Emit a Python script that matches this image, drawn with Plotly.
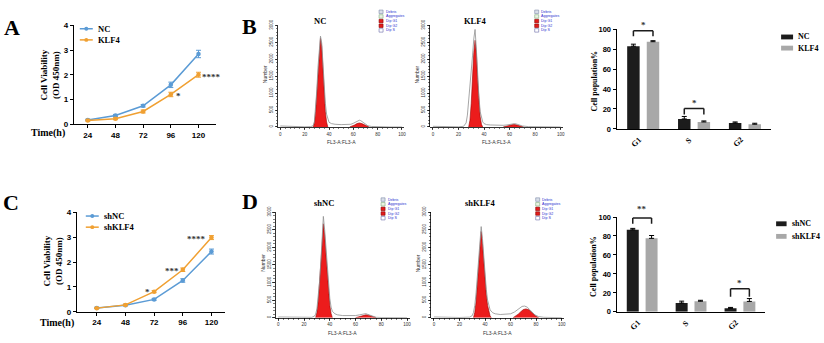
import plotly.graph_objects as go

W, H = 824, 343

# ---------------- data ----------------
hours = [24, 48, 72, 96, 120]
nc_od = [0.17, 0.35, 0.74, 1.59, 2.84]
nc_od_err = [0.03, 0.04, 0.05, 0.11, 0.15]
klf4_od = [0.15, 0.22, 0.51, 1.20, 2.00]
klf4_od_err = [0.03, 0.04, 0.06, 0.09, 0.10]
shnc_od = [0.16, 0.27, 0.50, 1.26, 2.42]
shnc_od_err = [0.03, 0.03, 0.04, 0.07, 0.10]
shklf4_od = [0.15, 0.28, 0.81, 1.69, 2.98]
shklf4_od_err = [0.02, 0.03, 0.04, 0.07, 0.08]

phases = ["G1", "S", "G2"]
nc_pct = [83, 10, 6]
nc_pct_err = [2, 2.5, 1]
klf4_pct = [87.5, 7, 4.7]
klf4_pct_err = [1, 1, 1]
shnc_pct = [86.5, 9.3, 3.7]
shnc_pct_err = [1.5, 2, 1]
shklf4_pct = [77.5, 11.2, 11]
shklf4_pct_err = [3, 1, 3]

# flow cytometry histograms (FL3-A channel vs count)
nc_tot_x = [0, 10, 20, 25, 27, 28, 29, 30, 31, 32, 33, 34, 35, 36, 37, 38, 39, 40, 42, 45, 50, 55, 58, 60, 62, 64, 65, 66, 68, 70, 72, 75, 80, 90, 100]
nc_tot_y = [30, 10, 5, 10, 40, 160, 520, 1100, 1800, 2380, 2680, 2480, 1850, 1200, 700, 380, 220, 140, 100, 80, 70, 70, 80, 110, 150, 190, 200, 190, 130, 70, 35, 15, 5, 0, 0]
nc_g1_x = [27, 28, 29, 30, 31, 32, 33, 34, 35, 36, 37, 38, 39]
nc_g1_y = [0, 120, 450, 1000, 1700, 2300, 2620, 2380, 1700, 1000, 450, 150, 0]
nc_g2_x = [57, 59, 61, 63, 65, 67, 69, 71, 73]
nc_g2_y = [0, 20, 60, 100, 120, 100, 60, 20, 0]

klf4_tot_x = [0, 10, 20, 24, 26, 27, 28, 29, 30, 31, 32, 33, 34, 35, 36, 37, 38, 39, 40, 42, 45, 50, 55, 58, 60, 62, 63, 64, 66, 68, 70, 75, 80, 100]
klf4_tot_y = [20, 8, 5, 20, 120, 350, 750, 1150, 1550, 2100, 2600, 2880, 2300, 1500, 900, 450, 250, 150, 100, 70, 60, 50, 50, 60, 80, 100, 110, 100, 80, 50, 30, 10, 5, 0]
klf4_g1_x = [28, 29, 30, 31, 32, 33, 34, 35, 36, 37, 38, 39]
klf4_g1_y = [0, 200, 700, 1500, 2200, 2560, 2200, 1400, 750, 300, 80, 0]
klf4_g2_x = [55, 57, 59, 61, 63, 65, 67, 69, 71]
klf4_g2_y = [0, 15, 40, 65, 75, 65, 40, 15, 0]

shnc_tot_x = [0, 10, 20, 26, 28, 29, 30, 31, 32, 33, 34, 35, 36, 37, 38, 39, 40, 41, 42, 44, 46, 50, 55, 60, 63, 65, 67, 68, 69, 71, 73, 76, 80, 100]
shnc_tot_y = [20, 8, 5, 10, 40, 100, 250, 550, 1000, 1550, 2150, 2880, 2500, 2000, 1450, 950, 550, 300, 180, 110, 80, 60, 55, 60, 80, 100, 110, 115, 100, 70, 35, 10, 5, 0]
shnc_g1_x = [29, 30, 31, 32, 33, 34, 35, 36, 37, 38, 39, 40, 41, 42]
shnc_g1_y = [0, 150, 450, 900, 1450, 2050, 2670, 2350, 1800, 1200, 700, 350, 120, 0]
shnc_g2_x = [60, 62, 64, 66, 68, 70, 72, 74, 76]
shnc_g2_y = [0, 20, 50, 70, 80, 70, 50, 20, 0]

shklf4_tot_x = [0, 10, 20, 28, 30, 31, 32, 33, 34, 35, 36, 37, 38, 39, 40, 41, 42, 43, 44, 46, 48, 52, 56, 60, 63, 65, 67, 69, 71, 72, 73, 75, 77, 79, 82, 86, 100]
shklf4_tot_y = [20, 8, 5, 15, 60, 150, 350, 700, 1150, 1650, 2150, 2590, 2250, 1700, 1200, 800, 500, 320, 220, 140, 110, 90, 90, 110, 160, 220, 280, 320, 330, 320, 300, 230, 150, 80, 30, 10, 0]
shklf4_g1_x = [31, 32, 33, 34, 35, 36, 37, 38, 39, 40, 41, 42, 43, 44, 45]
shklf4_g1_y = [0, 150, 450, 900, 1400, 1950, 2450, 2100, 1550, 1050, 650, 350, 150, 50, 0]
shklf4_g2_x = [62, 64, 66, 68, 70, 72, 74, 76, 78, 80, 82]
shklf4_g2_y = [0, 40, 100, 170, 230, 250, 230, 170, 100, 40, 0]

hist_legend_items = ["Debris", "Aggregates", "Dip G1", "Dip G2", "Dip S"]

# ---------------- helpers ----------------
def fx(p):
    return p / W

def fy(p):
    return 1 - p / H

SERIF = "Liberation Serif"
SANS = "Liberation Sans"
BLUE = "#5b9bd5"
ORANGE = "#f0a032"
DARK = "#1c1c1c"
GREY = "#a8a8a8"

fig = go.Figure()
shapes = []
annotations = []

def ax_id(n):
    return ("x", "y") if n == 1 else ("x%d" % n, "y%d" % n)

def ax_key(n):
    return ("xaxis", "yaxis") if n == 1 else ("xaxis%d" % n, "yaxis%d" % n)

def text(x, y, s, size, family=SERIF, bold=True, xanchor="center", yanchor="middle",
         angle=0, color="black", xref="paper", yref="paper", xshift=0, yshift=0):
    annotations.append(dict(x=x, y=y, xref=xref, yref=yref, text=s, showarrow=False,
                            xanchor=xanchor, yanchor=yanchor, textangle=angle,
                            xshift=xshift, yshift=yshift, borderpad=0,
                            font=dict(family=family, size=size, color=color,
                                      weight="bold" if bold else "normal")))

# ---------------- line charts (A, C) ----------------
def line_panel(n, xdom_px, ydom_px, x24, x120, series, leg_px):
    xa, ya = ax_id(n)
    xk, yk = ax_key(n)
    slope = (x120 - x24) / 96.0
    xr = [24 - (x24 - xdom_px[0]) / slope, 120 + (xdom_px[1] - x120) / slope]
    for (name, vals, errs, col) in series:
        fig.add_trace(go.Scatter(x=hours, y=vals, mode="lines+markers", name=name,
                                 line=dict(color=col, width=1.5),
                                 marker=dict(symbol="circle", size=4.5, color=col),
                                 error_y=dict(type="data", array=errs, color=col,
                                              thickness=1, width=2.5),
                                 xaxis=xa, yaxis=ya, showlegend=False, cliponaxis=False))
    common = dict(showline=True, linecolor="black", linewidth=1, ticks="outside",
                  ticklen=3, tickwidth=1, tickcolor="black", showgrid=False, zeroline=False,
                  tickfont=dict(family=SANS, size=8, color="black", weight="bold"))
    fig.update_layout(**{
        xk: dict(domain=[fx(xdom_px[0]), fx(xdom_px[1])], range=xr, anchor=ya,
                 tickvals=hours, **common),
        yk: dict(domain=[fy(ydom_px[1]), fy(ydom_px[0])], range=[0, 4], anchor=xa,
                 tickvals=[0, 1, 2, 3, 4], **common),
    })
    # legend
    lx, ly = leg_px
    for i, (name, vals, errs, col) in enumerate(series):
        yy = ly + i * 11.5
        shapes.append(dict(type="line", xref="paper", yref="paper", x0=fx(lx), x1=fx(lx + 13),
                           y0=fy(yy), y1=fy(yy), line=dict(color=col, width=1.5)))
        shapes.append(dict(type="circle", xref="paper", yref="paper", x0=fx(lx + 4.5), x1=fx(lx + 8.5),
                           y0=fy(yy + 2), y1=fy(yy - 2), fillcolor=col, line=dict(color=col, width=0)))
        text(fx(lx + 17), fy(yy), name, 8.5, xanchor="left")

line_panel(1, (74, 217), (20, 122), 88, 199,
           [("NC", nc_od, nc_od_err, BLUE), ("KLF4", klf4_od, klf4_od_err, ORANGE)], (80, 23.5))
line_panel(2, (77, 226), (213, 316), 97, 212,
           [("shNC", shnc_od, shnc_od_err, BLUE), ("shKLF4", shklf4_od, shklf4_od_err, ORANGE)], (86, 217))

# axis titles
text(fx(48), fy(131), "Time(h)", 10)
text(fx(57), fy(327), "Time(h)", 10)
text(fx(50), fy(71), "Cell Viability<br>(OD 450nm)", 9, angle=-90)
text(fx(53), fy(263), "Cell Viability<br>(OD 450nm)", 9, angle=-90)

# significance stars line charts
text(96, klf4_od[3], "*", 9, xref="x", yref="y", xanchor="left", xshift=4, yshift=-2, color="#333")
text(120, klf4_od[4], "****", 9, xref="x", yref="y", xanchor="left", xshift=2, yshift=-2, color="#333")
text(72, shklf4_od[2], "*", 9, xref="x2", yref="y2", xanchor="right", xshift=-3, yshift=0, color="#333")
text(96, shklf4_od[3], "***", 9, xref="x2", yref="y2", xanchor="right", xshift=-3, yshift=-1, color="#333")
text(120, shklf4_od[4], "****", 9, xref="x2", yref="y2", xanchor="right", xshift=-4, yshift=-1, color="#333")

# ---------------- histograms (B, D) ----------------
ICON_STYLE = [("#d9dfe9", "#7d8aa8"), ("#eaf2e2", "#7fae7f"), ("#e41b1b", "#8a0000"),
              ("#e41b1b", "#8a0000"), ("#ffffff", "#6a6aa8")]

def hist_panel(n, xdom_px, ydom_px, title, title_px, leg_px, tot_x, tot_y, g1_x, g1_y, g2_x, g2_y):
    xa, ya = ax_id(n)
    xk, yk = ax_key(n)
    for gx, gy in ((g1_x, g1_y), (g2_x, g2_y)):
        fig.add_trace(go.Scatter(x=gx, y=gy, mode="lines", fill="tozeroy", fillcolor="#ec1c1c",
                                 line=dict(color="#9a0000", width=0.6), xaxis=xa, yaxis=ya,
                                 showlegend=False))
    fig.add_trace(go.Scatter(x=tot_x, y=tot_y, mode="lines", line=dict(color="#8f8f8f", width=0.8),
                             xaxis=xa, yaxis=ya, showlegend=False))
    px1 = g1_x[g1_y.index(max(g1_y))]
    px2 = g2_x[g2_y.index(max(g2_y))]
    fig.add_trace(go.Scatter(x=[px1, px2], y=[-90, -90], mode="markers",
                             marker=dict(symbol="triangle-up", size=4.5, color="black"),
                             xaxis=xa, yaxis=ya, showlegend=False, cliponaxis=False))
    font = dict(family=SANS, size=4.5, color="#333")
    fig.update_layout(**{
        xk: dict(domain=[fx(xdom_px[0]), fx(xdom_px[1])], range=[-2, 102], anchor=ya,
                 tickvals=[0, 20, 40, 60, 80, 100], ticks="outside", ticklen=2.5, tickwidth=0.7,
                 tickcolor="black", showline=True, linecolor="black", linewidth=0.8,
                 showgrid=False, zeroline=False, tickfont=font,
                 minor=dict(dtick=4, ticks="outside", ticklen=1.5, tickwidth=0.5, tickcolor="black")),
        yk: dict(domain=[fy(ydom_px[1]), fy(ydom_px[0])], range=[0, 3000], anchor=xa,
                 tickvals=[0, 500, 1000, 1500, 2000, 2500, 3000], tickangle=-90,
                 ticks="outside", ticklen=2.5, tickwidth=0.7, tickcolor="black",
                 showline=True, linecolor="black", linewidth=0.8, showgrid=False,
                 zeroline=False, tickfont=font,
                 minor=dict(dtick=100, ticks="outside", ticklen=1.5, tickwidth=0.5, tickcolor="black")),
    })
    text(fx(title_px[0]), fy(title_px[1]), title, 8.5)
    cx = (xdom_px[0] + xdom_px[1]) / 2
    text(fx(cx), fy(ydom_px[1] + 16), "FL3-A:FL3-A", 5, family=SANS, bold=False, color="#333")
    text(fx(xdom_px[0] - 13), fy((ydom_px[0] + ydom_px[1]) / 2 - 2), "Number", 5, family=SANS,
         bold=False, angle=-90, color="#333")
    lx, ly = leg_px
    for i, item in enumerate(hist_legend_items):
        yy = ly + i * 4.8
        fc, lc = ICON_STYLE[i]
        shapes.append(dict(type="rect", xref="paper", yref="paper", x0=fx(lx), x1=fx(lx + 4),
                           y0=fy(yy + 1.8), y1=fy(yy - 1.8), fillcolor=fc, line=dict(color=lc, width=0.6)))
        text(fx(lx + 5.5), fy(yy), item, 3.6, family=SANS, bold=False, xanchor="left", color="#2b2bd0")

hist_panel(3, (278.6, 405.4), (20, 125), "NC", (321, 15), (380, 6),
           nc_tot_x, nc_tot_y, nc_g1_x, nc_g1_y, nc_g2_x, nc_g2_y)
hist_panel(4, (431.4, 564.6), (20, 125), "KLF4", (476, 15), (536, 6),
           klf4_tot_x, klf4_tot_y, klf4_g1_x, klf4_g1_y, klf4_g2_x, klf4_g2_y)
hist_panel(5, (276.4, 410.6), (213, 322), "shNC", (325, 204), (382, 200),
           shnc_tot_x, shnc_tot_y, shnc_g1_x, shnc_g1_y, shnc_g2_x, shnc_g2_y)
hist_panel(6, (432.4, 565.6), (213, 322), "shKLF4", (482, 204), (537, 200),
           shklf4_tot_x, shklf4_tot_y, shklf4_g1_x, shklf4_g1_y, shklf4_g2_x, shklf4_g2_y)

# ---------------- bar charts ----------------
def bar_panel(n, xdom_px, ydom_px, series, leg_px, leg_gap, rect_w, brackets):
    xa, ya = ax_id(n)
    xk, yk = ax_key(n)
    offsets = [-0.31, 0.075]
    bw = 0.245
    for (name, vals, errs, col), off in zip(series, offsets):
        fig.add_trace(go.Bar(x=phases, y=vals, name=name, width=bw, offset=off,
                             marker=dict(color=col, line=dict(width=0)),
                             error_y=dict(type="data", array=errs, arrayminus=[0] * len(errs),
                                          color="black", thickness=1, width=2.5),
                             xaxis=xa, yaxis=ya, showlegend=False))
    fig.update_layout(**{
        xk: dict(domain=[fx(xdom_px[0]), fx(xdom_px[1])], range=[-0.52, 2.52], anchor=ya,
                 type="category", categoryorder="array", categoryarray=phases,
                 showline=True, linecolor="black", linewidth=1, ticks="", showticklabels=False,
                 showgrid=False, zeroline=False),
        yk: dict(domain=[fy(ydom_px[1]), fy(ydom_px[0])], range=[0, 100], anchor=xa,
                 tickvals=[0, 20, 40, 60, 80, 100], ticks="outside", ticklen=3, tickwidth=1,
                 tickcolor="black", showline=True, linecolor="black", linewidth=1,
                 showgrid=False, zeroline=False,
                 tickfont=dict(family=SANS, size=7.5, color="black", weight="bold")),
    })
    # rotated category labels
    for i, ph in enumerate(phases):
        text(i, 0, ph, 8, xref=xa, yref=ya, xanchor="right", yanchor="top", angle=-45,
             xshift=1, yshift=-5)
    text(fx(xdom_px[0] - 23), fy((ydom_px[0] + ydom_px[1]) / 2 + 2), "Cell population%", 8, angle=-90)
    # legend
    lx, ly = leg_px
    for i, (name, vals, errs, col) in enumerate(series):
        yy = ly + i * leg_gap
        shapes.append(dict(type="rect", xref="paper", yref="paper", x0=fx(lx), x1=fx(lx + rect_w),
                           y0=fy(yy + 2.5), y1=fy(yy - 2.5), fillcolor=col, line=dict(width=0)))
        text(fx(lx + rect_w + 4), fy(yy), name, 8, xanchor="left")
    # significance brackets
    c1 = offsets[0] + bw / 2
    c2 = offsets[1] + bw / 2
    span = ydom_px[1] - ydom_px[0]
    for cat, ytop, ylow, star, ystar in brackets:
        xl, xr = cat + c1, cat + c2
        for (a, b, c, d) in ((xl, ylow, xl, ytop), (xl, ytop, xr, ytop), (xr, ytop, xr, ylow)):
            shapes.append(dict(type="line", xref=xa, yref=ya, x0=a, y0=b, x1=c, y1=d,
                               line=dict(color=DARK, width=1.5)))
        star_px = ydom_px[1] - ystar / 100.0 * span
        text((xl + xr) / 2, fy(star_px), star, 9, xref=xa, yref="paper", color="#333")

bar_panel(7, (618, 773), (24, 127),
          [("NC", nc_pct, nc_pct_err, DARK), ("KLF4", klf4_pct, klf4_pct_err, GREY)], (783, 32), 11.5, 12,
          [(0, 98.5, 93, "*", 104), (1, 20.5, 14.5, "*", 26)])
bar_panel(8, (618, 767), (218, 316),
          [("shNC", shnc_pct, shnc_pct_err, DARK), ("shKLF4", shklf4_pct, shklf4_pct_err, GREY)], (778, 225), 13, 10.5,
          [(0, 99, 93, "**", 108), (2, 24.5, 16, "*", 30)])

# ---------------- panel letters ----------------
text(fx(12), fy(22), "A", 22)
text(fx(250), fy(21), "B", 22)
text(fx(11), fy(203), "C", 22)
text(fx(251), fy(202), "D", 22)

fig.update_layout(width=W, height=H, margin=dict(l=0, r=0, t=0, b=0),
                  paper_bgcolor="white", plot_bgcolor="white", showlegend=False,
                  barmode="overlay", shapes=shapes, annotations=annotations)

fig.write_html("out.html", config={"displayModeBar": False, "staticPlot": True},
               post_script="document.body.style.margin='0';document.body.style.padding='0';"
                           "document.body.style.overflow='hidden';")
